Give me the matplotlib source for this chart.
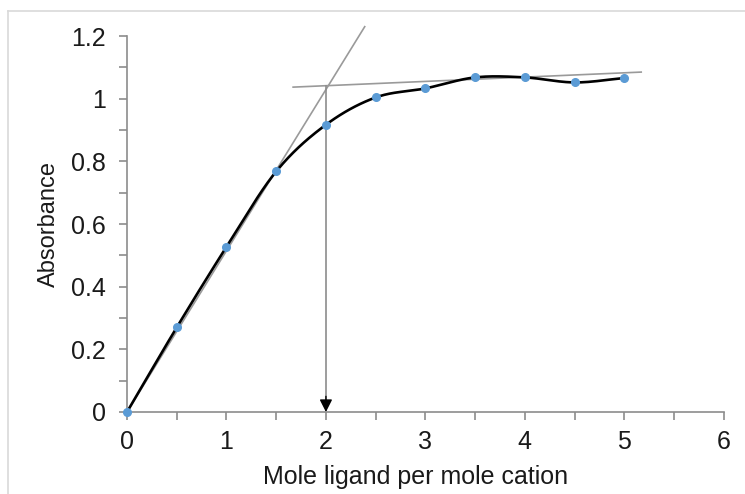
import numpy as np
import matplotlib
matplotlib.use("Agg")
import matplotlib.pyplot as plt
from matplotlib.lines import Line2D

plt.rcParams["font.family"] = ["Liberation Sans", "DejaVu Sans"]

# data
ratio = [0, 0.5, 1, 1.5, 2, 2.5, 3, 3.5, 4, 4.5, 5]
absorbance = [0, 0.27, 0.527, 0.768, 0.917, 1.004, 1.033, 1.068, 1.068, 1.052, 1.066]

# tangent lines (end points)
steep_x = [0, 2.39]
steep_y = [0, 1.23]
flat_x = [1.67, 5.17]
flat_y = [1.037, 1.085]

# stoichiometry point
stoich_x = 2
stoich_y = 1.041

xticks = [0, 1, 2, 3, 4, 5, 6]
yticks = [0, 0.2, 0.4, 0.6, 0.8, 1.0, 1.2]
ytick_labels = ["0", "0.2", "0.4", "0.6", "0.8", "1", "1.2"]


def smooth(x, y, n=30):
    """Catmull-Rom curve through the points, like Excel's smoothed line."""
    x = np.asarray(x, float)
    y = np.asarray(y, float)
    px = np.concatenate([[2 * x[0] - x[1]], x, [2 * x[-1] - x[-2]]])
    py = np.concatenate([[2 * y[0] - y[1]], y, [2 * y[-1] - y[-2]]])
    xs, ys = [], []
    t = np.linspace(0, 1, n)
    for i in range(1, len(px) - 2):
        for p, out in ((px, xs), (py, ys)):
            p0, p1, p2, p3 = p[i - 1], p[i], p[i + 1], p[i + 2]
            out.extend(0.5 * (2 * p1 + (-p0 + p2) * t
                              + (2 * p0 - 5 * p1 + 4 * p2 - p3) * t ** 2
                              + (-p0 + 3 * p1 - 3 * p2 + p3) * t ** 3))
    return np.array(xs), np.array(ys)


fig = plt.figure(figsize=(7.45, 4.94), dpi=100)
ax = fig.add_axes([0.1705, 0.166, 0.801, 0.761])

# frame around the chart (left and top visible)
fig.add_artist(Line2D([0.011, 0.011], [0, 0.978], color="#d9d9d9", lw=1.2))
fig.add_artist(Line2D([0.011, 1.0], [0.978, 0.978], color="#d9d9d9", lw=1.2))

ax.plot(steep_x, steep_y, color="#9a9a9a", lw=1.2, zorder=2, clip_on=False)
ax.plot(flat_x, flat_y, color="#9a9a9a", lw=1.2, zorder=2, clip_on=False)
ax.plot([stoich_x, stoich_x], [0.03, stoich_y], color="#8c8c8c", lw=1.2, zorder=2)
ax.annotate("", xy=(stoich_x, 0.0), xytext=(stoich_x, 0.05),
            arrowprops=dict(arrowstyle="-|>,head_length=0.75,head_width=0.38",
                            lw=1.0, fc="black", ec="black",
                            shrinkA=0, shrinkB=0), zorder=3)

sx, sy = smooth(ratio, absorbance)
ax.plot(sx, sy, color="black", lw=1.9, zorder=3, solid_capstyle="round")
ax.plot(ratio, absorbance, "o", color="#5b9bd5", ms=5.5, mec="#5b9bd5", zorder=4,
        clip_on=False)

ax.set_xlim(0, 6)
ax.set_ylim(0, 1.2)
ax.set_xticks(xticks)
ax.set_xticks(np.arange(0, 6.01, 0.5), minor=True)
ax.set_yticks(yticks)
ax.set_yticklabels(ytick_labels)
ax.set_yticks(np.arange(0, 1.201, 0.1), minor=True)

for side in ("top", "right"):
    ax.spines[side].set_visible(False)
for side in ("left", "bottom"):
    ax.spines[side].set_color("#8c8c8c")
    ax.spines[side].set_linewidth(1.2)

ax.tick_params(which="both", direction="out", color="#8c8c8c", width=1.2,
               length=6, labelsize=18, labelcolor="#1a1a1a")
ax.tick_params(axis="x", pad=7)
ax.tick_params(axis="y", pad=9)

ax.set_xlabel("Mole ligand per mole cation", fontsize=18, color="#1a1a1a")
ax.xaxis.set_label_coords(0.483, -0.14)
ax.set_ylabel("Absorbance", fontsize=17, color="#1a1a1a", labelpad=8)

fig.savefig("out.png", dpi=100)
